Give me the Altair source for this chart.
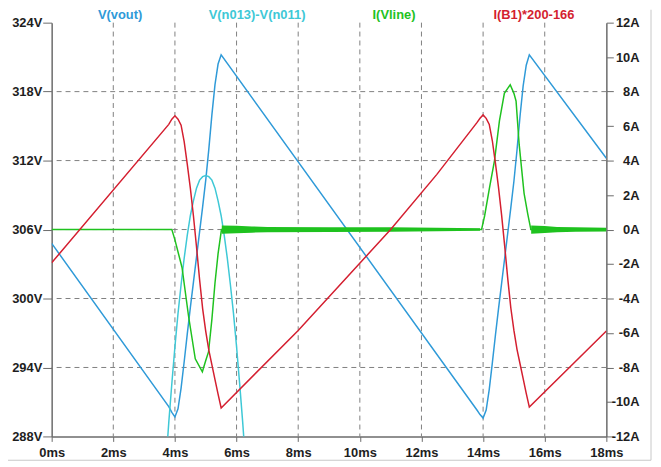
import altair as alt
import pandas as pd

# ---------------- data ----------------
# V(vout)  [V, left axis]
t_vout = [0.0, 3.8, 3.9, 4.0, 4.1, 4.2, 4.3, 4.4, 4.5, 4.6, 4.7, 4.8, 4.9, 5.0,
          5.1, 5.2, 5.3, 5.4, 5.5,
          13.8, 13.9, 14.0, 14.1, 14.2, 14.3, 14.4, 14.5, 14.6, 14.7, 14.8, 14.9,
          15.0, 15.1, 15.2, 15.3, 15.4, 15.5, 18.0]
v_vout = [304.8, 290.6, 290.1, 289.7, 290.4, 292.2, 294.5, 296.9, 299.2, 301.4,
          303.6, 305.8, 308.0, 310.3, 313.0, 316.0, 318.6, 320.4, 321.2,
          290.3, 289.9, 289.6, 290.3, 292.1, 294.4, 296.8, 299.1, 301.3, 303.5,
          305.7, 307.9, 310.2, 312.9, 315.9, 318.5, 320.3, 321.2, 312.2]

# V(n013)-V(n011)  [V, left axis]
t_cyan = [3.7, 3.8, 3.9, 4.0, 4.1, 4.2, 4.3, 4.4, 4.5, 4.6, 4.7, 4.8, 4.9, 5.0,
          5.1, 5.2, 5.3, 5.4, 5.5, 5.6, 5.7, 5.8, 5.9, 6.0, 6.1, 6.2, 6.3]
v_cyan = [285.4, 289.2, 292.6, 295.8, 298.7, 301.2, 303.5, 305.5, 307.2, 308.5,
          309.6, 310.3, 310.6, 310.7, 310.6, 310.3, 309.6, 308.5, 307.2, 305.5,
          303.5, 301.2, 298.7, 295.8, 292.6, 289.2, 285.4]

# I(Vline)  [A, right axis]
t_green = [0.0, 3.9, 4.0, 4.23, 4.44, 4.66, 4.89, 5.0, 5.09, 5.2, 5.3, 5.4, 5.51,
           13.95, 14.05, 14.21, 14.37, 14.53, 14.69, 14.88, 15.0, 15.07, 15.17,
           15.33, 15.45, 15.55, 18.0]
a_green = [0.0, 0.0, -0.6, -2.2, -5.0, -7.5, -8.25, -7.6, -7.1, -5.2, -3.1, -1.4, 0.0,
           0.0, 0.8, 2.45, 4.0, 6.3, 7.9, 8.4, 7.9, 7.45, 4.95,
           2.1, 0.9, 0.0, 0.0]

# ringing envelope of I(Vline) after each conduction pulse (half width, A)
t_ring = [5.52, 6.0, 6.5, 7.0, 9.0, 11.0, 12.5, 13.9,
          15.56, 16.0, 16.4, 17.0, 18.0]
h_ring = [0.24, 0.22, 0.18, 0.15, 0.14, 0.13, 0.1, 0.07,
          0.24, 0.2, 0.15, 0.13, 0.11]
g_ring = [1, 1, 1, 1, 1, 1, 1, 1, 2, 2, 2, 2, 2]

# I(B1)*200-166  [A, right axis]
t_red = [0.0, 3.8, 3.9, 4.0, 4.1, 4.2, 4.3, 4.4, 4.5, 4.6, 4.7, 4.8, 4.9, 5.0,
         5.1, 5.2, 5.3, 5.4, 5.5, 8.0, 11.0, 12.5,
         13.8, 13.9, 14.0, 14.1, 14.2, 14.3, 14.4, 14.5, 14.6, 14.7, 14.8, 14.9,
         15.0, 15.1, 15.2, 15.3, 15.4, 15.5, 18.0]
a_red = [-1.93, 6.1, 6.4, 6.6, 6.4, 6.05, 5.1, 3.8, 2.4, 0.8, -1.0, -2.9, -4.6, -5.9,
         -7.0, -7.85, -8.7, -9.55, -10.35, -5.85, 0.0, 3.2,
         6.2, 6.45, 6.65, 6.45, 6.1, 5.15, 3.85, 2.45, 0.85, -0.95, -2.85, -4.55,
         -5.85, -6.95, -7.8, -8.65, -9.5, -10.3, -5.88]

x_ticks = [0, 2, 4, 6, 8, 10, 12, 14, 16, 18]
v_ticks = [288, 294, 300, 306, 312, 318, 324]
a_ticks = [-12, -10, -8, -6, -4, -2, 0, 2, 4, 6, 8, 10, 12]
grid_t = [2, 4, 6, 8, 10, 12, 14, 16]
grid_v = [294, 300, 306, 312, 318]

trace_names = ["V(vout)", "V(n013)-V(n011)", "I(Vline)", "I(B1)*200-166"]

# ---------------- styling ----------------
C_BLUE = "#2f9ad8"
C_CYAN = "#3ec8d6"
C_GREEN = "#1fc21f"
C_RED = "#d41f30"
AX = "#6b6b6b"
TXT = "#1e1e1e"
FONT = "Liberation Sans"
W, H = 559, 417

df_vout = pd.DataFrame({"t": t_vout, "v": v_vout})
df_cyan = pd.DataFrame({"t": t_cyan, "v": v_cyan})
df_green = pd.DataFrame({"t": t_green, "a": a_green})
df_ring = pd.DataFrame({"t": t_ring, "lo": [-h for h in h_ring],
                        "hi": h_ring, "g": g_ring})
df_red = pd.DataFrame({"t": t_red, "a": a_red})
df_gt = pd.DataFrame({"t": grid_t})
df_gv = pd.DataFrame({"v": grid_v})

xs = alt.Scale(domain=[0, 18], nice=False, zero=False)
vs = alt.Scale(domain=[288, 324], nice=False, zero=False)
as_ = alt.Scale(domain=[-12, 12], nice=False, zero=False)

x_axis = alt.Axis(values=x_ticks, labelExpr="datum.value + 'ms'", title=None,
                  grid=False, tickSize=5, labelPadding=5, domainColor=AX,
                  domainWidth=1.5, tickColor=AX, labelColor=TXT, labelFont=FONT,
                  labelFontSize=13, labelFontWeight="bold", labelFlush=False)
v_axis = alt.Axis(values=v_ticks, labelExpr="datum.value + 'V'", title=None,
                  grid=False, tickSize=9, labelPadding=1, domainColor=AX,
                  domainWidth=1.5, tickColor=AX, labelColor=TXT, labelFont=FONT,
                  labelFontSize=13, labelFontWeight="bold", labelFlush=False)
a_axis = alt.Axis(values=a_ticks, labelExpr="datum.value + 'A'", title=None,
                  orient="right", grid=False, tickSize=7, labelPadding=26,
                  labelAlign="right", domainColor=AX, domainWidth=1.5,
                  tickColor=AX, labelColor=TXT, labelFont=FONT, labelFontSize=13,
                  labelFontWeight="bold", labelFlush=False)

X = alt.X("t:Q", scale=xs, axis=x_axis)

gridx = alt.Chart(df_gt).mark_rule(color="#808080", strokeDash=[5, 4],
                                   strokeWidth=1).encode(x=X)
gridy = alt.Chart(df_gv).mark_rule(color="#808080", strokeDash=[5, 4],
                                   strokeWidth=1).encode(
    y=alt.Y("v:Q", scale=vs, axis=v_axis))
vout = alt.Chart(df_vout).mark_line(color=C_BLUE, strokeWidth=1.5, clip=True).encode(
    x=X, y=alt.Y("v:Q", scale=vs, axis=v_axis), order="t:Q")
cyan = alt.Chart(df_cyan).mark_line(color=C_CYAN, strokeWidth=1.5, clip=True).encode(
    x=X, y=alt.Y("v:Q", scale=vs, axis=v_axis), order="t:Q")

left = alt.layer(gridx, gridy, vout, cyan)

ring = alt.Chart(df_ring).mark_area(color=C_GREEN, opacity=1, clip=True).encode(
    x=X, y=alt.Y("lo:Q", scale=as_, axis=a_axis), y2="hi:Q", detail="g:N")
green = alt.Chart(df_green).mark_line(color=C_GREEN, strokeWidth=1.5, clip=True).encode(
    x=X, y=alt.Y("a:Q", scale=as_, axis=a_axis), order="t:Q")
red = alt.Chart(df_red).mark_line(color=C_RED, strokeWidth=1.5, clip=True).encode(
    x=X, y=alt.Y("a:Q", scale=as_, axis=a_axis), order="t:Q")

right = alt.layer(ring, green, red)

# trace names above the plot (LTspice header)
label_x = [69, 207, 345, 486]
label_c = [C_BLUE, C_CYAN, C_GREEN, C_RED]
labels = []
for name, lx, col in zip(trace_names, label_x, label_c):
    labels.append(
        alt.Chart(pd.DataFrame({"name": [name]})).mark_text(
            font=FONT, fontSize=13, fontWeight="bold", color=col,
            align="center", baseline="alphabetic").encode(
            text="name:N", x=alt.value(lx), y=alt.value(-4)))

# light window border (right and bottom)
border_r = alt.Chart(pd.DataFrame({"k": [0]})).mark_rule(color="#c8c8c8").encode(
    x=alt.value(604), y=alt.value(-13), y2=alt.value(441))
border_b = alt.Chart(pd.DataFrame({"k": [0]})).mark_rule(color="#c8c8c8").encode(
    x=alt.value(-44), x2=alt.value(604), y=alt.value(441))

chart = alt.layer(left, right, *labels, border_r, border_b).resolve_scale(
    y="independent"
).properties(
    width=W, height=H,
    autosize=alt.AutoSizeParams(type="none"),
    padding={"left": 44, "top": 13, "right": 47, "bottom": 24},
    background="white",
).configure_view(stroke=None)

chart.save("out.html", embed_options={"renderer": "svg", "actions": False})
